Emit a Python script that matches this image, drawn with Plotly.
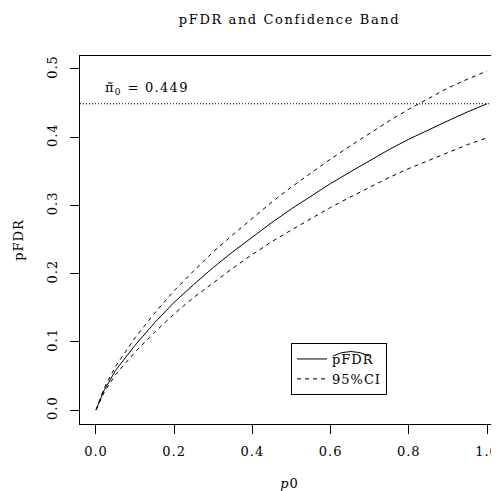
import plotly.graph_objects as go

# ---- data ----
p0 = [0.0, 0.02, 0.05, 0.10, 0.15, 0.20, 0.25, 0.30, 0.35, 0.40, 0.45,
      0.50, 0.55, 0.60, 0.65, 0.70, 0.75, 0.80, 0.85, 0.90, 0.95, 1.00]
pfdr = [0.0, 0.028, 0.058, 0.095, 0.128, 0.158, 0.184, 0.209, 0.232, 0.254, 0.275,
        0.295, 0.314, 0.332, 0.349, 0.366, 0.382, 0.397, 0.411, 0.424, 0.437, 0.449]
ci_upper = [0.0, 0.031, 0.064, 0.106, 0.142, 0.175, 0.204, 0.232, 0.257, 0.281, 0.305,
            0.327, 0.348, 0.368, 0.387, 0.406, 0.424, 0.441, 0.457, 0.472, 0.485, 0.497]
ci_lower = [0.0, 0.025, 0.052, 0.085, 0.114, 0.141, 0.165, 0.187, 0.208, 0.228, 0.247,
            0.264, 0.281, 0.297, 0.312, 0.327, 0.341, 0.354, 0.366, 0.378, 0.389, 0.399]
pi0_hat = 0.449

x_tickvals = [0.0, 0.2, 0.4, 0.6, 0.8, 1.0]
x_ticklabels = ["0.0", "0.2", "0.4", "0.6", "0.8", "1.0"]
y_tickvals = [0.0, 0.1, 0.2, 0.3, 0.4, 0.5]
y_ticklabels = ["0.0", "0.1", "0.2", "0.3", "0.4", "0.5"]

FONT = "DejaVu Serif"


def sp(t, ls=1.0):
    return f"<span style='letter-spacing:{ls}px'>{t}</span>"


# the page has an 8px body margin, so the figure is 8px smaller than the window
W, H = 491, 483
ML, MT, MB = 72, 48, 67
PW, PH = W - ML, H - MT - MB  # 419 x 368


def px(xp):  # page x -> paper
    return (xp - 8 - ML) / PW


def py(yp):  # page y -> paper
    return (H - MB - (yp - 8)) / PH


fig = go.Figure()
fig.add_trace(go.Scatter(x=p0, y=pfdr, mode="lines", name=sp("pFDR"),
                         line=dict(color="black", width=1)))
fig.add_trace(go.Scatter(x=p0, y=ci_upper, mode="lines", name=sp("95%CI"),
                         line=dict(color="black", width=1, dash="4px,4px")))
fig.add_trace(go.Scatter(x=p0, y=ci_lower, mode="lines", name="95%CI lower",
                         showlegend=False,
                         line=dict(color="black", width=1, dash="4px,4px")))

fig.add_shape(type="line", xref="paper", x0=0, x1=1, yref="y", y0=pi0_hat, y1=pi0_hat,
              line=dict(color="black", width=1, dash="1px,2px"))
fig.add_annotation(x=0.018, y=0.471, xref="x", yref="y", xanchor="left", yanchor="middle",
                   text=sp(f"\u03c0\u0303<sub>0</sub> = {pi0_hat:.3f}", 1.3), showarrow=False,
                   font=dict(family=FONT, size=13, color="black"))

# wide hat over the legend label
fig.add_shape(type="path", xref="paper", yref="paper", layer="above",
              path=f"M {px(333):.4f},{py(356):.4f} Q {px(351):.4f},{py(347):.4f} {px(369):.4f},{py(356):.4f}",
              line=dict(color="black", width=1))

fig.update_layout(
    width=W, height=H,
    margin=dict(l=ML, r=0, t=MT, b=MB, autoexpand=False),
    paper_bgcolor="white", plot_bgcolor="white",
    font=dict(family=FONT, size=13, color="black"),
    title=dict(text=sp("pFDR and Confidence Band", 1.6), x=0.5, xref="paper",
               y=1 - (19.5 - 8) / H, yref="container", xanchor="center", yanchor="middle",
               font=dict(family=FONT, size=13, color="black")),
    showlegend=True,
    legend=dict(x=px(291), y=py(343), xanchor="left", yanchor="top",
                bordercolor="black", borderwidth=1, bgcolor="rgba(0,0,0,0)",
                tracegroupgap=0,
                font=dict(family=FONT, size=13, color="black")),
    xaxis=dict(range=[-0.0409, 1.0307], tickvals=x_tickvals,
               ticktext=[sp(t) for t in x_ticklabels],
               ticks="outside", ticklen=9, tickcolor="black", tickwidth=1,
               ticklabelstandoff=6,
               showline=True, mirror=True, linecolor="black", linewidth=1,
               showgrid=False, zeroline=False,
               title=dict(text=sp("<i>p</i>0"), standoff=25,
                          font=dict(family=FONT, size=13))),
    yaxis=dict(range=[-0.0205, 0.519], tickvals=y_tickvals,
               ticktext=[sp(t) for t in y_ticklabels], tickangle=-90,
               ticks="outside", ticklen=9, tickcolor="black", tickwidth=1,
               ticklabelstandoff=8,
               showline=True, mirror=False, linecolor="black", linewidth=1,
               showgrid=False, zeroline=False,
               title=dict(text=sp("pFDR"), standoff=18,
                          font=dict(family=FONT, size=13))),
)

fig.write_html("out.html")
